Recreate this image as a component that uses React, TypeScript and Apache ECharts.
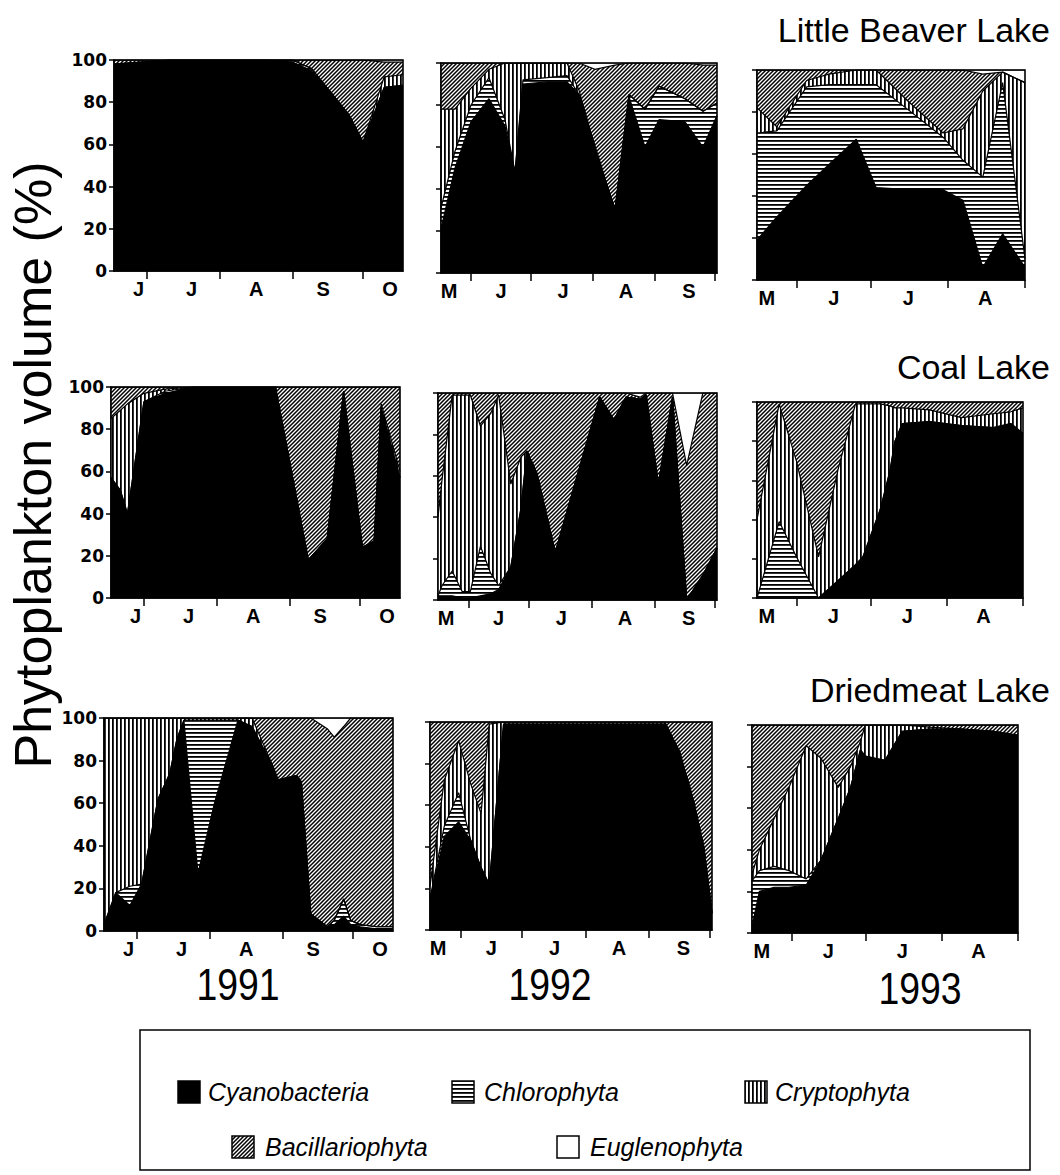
import React, { useEffect, useRef } from "react";
import * as echarts from "echarts";

// ---------- names ----------
const SPECIES = ["Cyanobacteria", "Chlorophyta", "Cryptophyta", "Bacillariophyta", "Euglenophyta"];
const LAKE_TITLES = ["Little Beaver Lake", "Coal Lake", "Driedmeat Lake"];
const YEAR_LABELS = ["1991", "1992", "1993"];
const Y_MIN = 0;
const Y_MAX = 100;
const Y_STEP = 20;

// ---------- x scales (day of year) ----------
const range1991 = [168, 291];
const monthEdges1991 = [182, 213, 244, 274];
const monthLabelDays1991 = [178.5, 201, 228.5, 257, 285.5];
const monthLetters1991 = ["J", "J", "A", "S", "O"];

const range1992 = [137, 275];
const monthEdges1992 = [152, 182, 213, 244, 274];
const monthLabelDays1992 = [141, 167, 198, 229.5, 261];
const monthLetters1992 = ["M", "J", "J", "A", "S"];

const range1993 = [136, 244];
const monthEdges1993 = [152, 182, 213, 244];
const monthLabelDays1993 = [140, 167, 197, 228];
const monthLetters1993 = ["M", "J", "J", "A"];

// ---------- Little Beaver Lake ----------
const lb91Days = [168, 180, 192, 205, 218, 232, 244, 252, 260, 268, 274, 283, 291];
const lb91Cyano = [98, 99, 100, 100, 100, 100, 99, 95, 85, 74, 61, 87, 88];
const lb91Chloro = [0, 0, 0, 0, 0, 0, 1, 1, 0, 0, 0, 0, 0];
const lb91Crypto = [0, 0, 0, 0, 0, 0, 0, 0, 0, 0, 0, 5, 5];
const lb91Bacil = [2, 1, 0, 0, 0, 0, 0, 4, 15, 26, 39, 7, 6];
const lb91Eugl = [0, 0, 0, 0, 0, 0, 0, 0, 0, 0, 0, 1, 1];

const lb92Days = [137, 144, 152, 161, 169, 174, 178, 190, 200, 206, 214, 224, 231, 239, 246, 259, 268, 275];
const lb92Cyano = [21, 50, 72, 83, 70, 48, 90, 91, 91, 85, 60, 30, 84, 60, 73, 72, 60, 75];
const lb92Chloro = [10, 8, 8, 10, 3, 0, 2, 2, 3, 0, 0, 0, 1, 18, 16, 11, 17, 6];
const lb92Crypto = [47, 20, 8, 4, 27, 52, 8, 7, 6, 2, 0, 0, 0, 0, 0, 0, 0, 0];
const lb92Bacil = [22, 22, 12, 3, 0, 0, 0, 0, 0, 13, 37, 69, 15, 22, 11, 17, 22, 18];
const lb92Eugl = [0, 0, 0, 0, 0, 0, 0, 0, 0, 0, 3, 1, 0, 0, 0, 0, 1, 1];

const lb93Days = [136, 144, 156, 165, 176, 184, 197, 211, 219, 227, 235, 244];
const lb93Cyano = [19, 30, 45, 55, 67, 44, 43, 43, 38, 6, 22, 6];
const lb93Chloro = [51, 41, 47, 38, 26, 49, 38, 25, 19, 43, 72, 4];
const lb93Crypto = [12, 2, 3, 5, 7, 7, 4, 2, 15, 41, 5, 84];
const lb93Bacil = [18, 27, 5, 2, 0, 0, 15, 30, 28, 8, 0, 0];
const lb93Eugl = [0, 0, 0, 0, 0, 0, 0, 0, 0, 2, 1, 6];

// ---------- Coal Lake ----------
const co91Days = [168, 172, 175, 182, 191, 203, 216, 228, 238, 252, 260, 267, 275, 280, 283, 291];
const co91Cyano = [57, 51, 40, 93, 97, 100, 100, 100, 100, 18, 28, 98, 24, 27, 90, 57];
const co91Chloro = [0, 0, 0, 0, 1, 0, 0, 0, 0, 0, 0, 0, 0, 0, 0, 0];
const co91Crypto = [28, 38, 52, 4, 1, 0, 0, 0, 0, 0, 0, 0, 0, 0, 2, 3];
const co91Bacil = [15, 11, 8, 3, 1, 0, 0, 0, 0, 82, 72, 2, 76, 73, 8, 40];
const co91Eugl = [0, 0, 0, 0, 0, 0, 0, 0, 0, 0, 0, 0, 0, 0, 0, 0];

const co92Days = [137, 139, 144, 149, 153, 158, 163, 167, 173, 178, 181, 186, 195, 217, 224, 230, 237, 240, 246, 253, 260, 268, 275];
const co92Cyano = [2, 2, 2, 1, 1, 2, 3, 5, 16, 44, 72, 61, 23, 98, 87, 98, 97, 99, 56, 98, 0, 12, 25];
const co92Chloro = [0, 5, 12, 3, 3, 24, 10, 2, 0, 0, 0, 0, 0, 0, 0, 0, 0, 0, 0, 0, 0, 0, 0];
const co92Crypto = [38, 51, 85, 95, 95, 58, 77, 92, 40, 25, 0, 0, 0, 0, 0, 0, 0, 0, 0, 0, 0, 0, 0];
const co92Bacil = [60, 42, 1, 1, 1, 16, 10, 1, 44, 31, 28, 39, 77, 2, 13, 2, 1, 1, 44, 2, 65, 88, 75];
const co92Eugl = [0, 0, 0, 0, 0, 0, 0, 0, 0, 0, 0, 0, 0, 0, 0, 0, 2, 0, 0, 0, 35, 0, 0];

const co93Days = [136, 145, 152, 161, 169, 176, 179, 186, 190, 192, 195, 206, 219, 232, 239, 244];
const co93Cyano = [0, 0, 0, 0, 9, 17, 21, 45, 65, 80, 89, 90, 88, 87, 89, 84];
const co93Chloro = [0, 39, 21, 0, 0, 0, 0, 0, 0, 0, 0, 0, 0, 0, 0, 0];
const co93Crypto = [40, 60, 49, 21, 57, 82, 78, 54, 33, 17, 8, 6, 4, 7, 6, 13];
const co93Bacil = [60, 1, 30, 79, 34, 1, 1, 1, 2, 3, 3, 4, 8, 6, 5, 3];
const co93Eugl = [0, 0, 0, 0, 0, 0, 0, 0, 0, 0, 0, 0, 0, 0, 0, 0];

// ---------- Driedmeat Lake ----------
const dm91Days = [168, 173, 179, 184, 191, 196, 199, 202, 208, 215, 225, 231, 240, 242, 250, 252, 256, 263, 266, 270, 273, 277, 284, 291];
const dm91Cyano = [3, 18, 12, 22, 62, 74, 90, 99, 27, 60, 99, 96, 77, 71, 73, 70, 8, 2, 3, 7, 3, 2, 1, 1];
const dm91Chloro = [0, 0, 9, 0, 0, 0, 0, 0, 72, 39, 0, 0, 0, 0, 0, 0, 0, 0, 2, 8, 2, 1, 1, 1];
const dm91Crypto = [97, 82, 79, 78, 38, 26, 10, 1, 1, 1, 1, 4, 0, 0, 0, 0, 0, 0, 0, 0, 0, 0, 0, 0];
const dm91Bacil = [0, 0, 0, 0, 0, 0, 0, 0, 0, 0, 0, 0, 23, 29, 27, 30, 92, 93, 86, 81, 95, 97, 98, 98];
const dm91Eugl = [0, 0, 0, 0, 0, 0, 0, 0, 0, 0, 0, 0, 0, 0, 0, 0, 0, 5, 9, 4, 0, 0, 0, 0];

const dm92Days = [137, 144, 151, 157, 162, 166, 173, 190, 210, 230, 252, 259, 266, 271, 275];
const dm92Cyano = [15, 45, 52, 43, 30, 22, 99, 99, 99, 99, 99, 86, 62, 40, 8];
const dm92Chloro = [0, 5, 14, 0, 0, 0, 0, 0, 0, 0, 0, 0, 0, 0, 0];
const dm92Crypto = [6, 22, 25, 27, 26, 77, 1, 1, 1, 1, 1, 0, 0, 0, 0];
const dm92Bacil = [79, 28, 9, 30, 44, 1, 0, 0, 0, 0, 0, 14, 38, 60, 92];
const dm92Eugl = [0, 0, 0, 0, 0, 0, 0, 0, 0, 0, 0, 0, 0, 0, 0];

const dm93Days = [136, 139, 145, 151, 158, 164, 171, 176, 180, 182, 186, 190, 197, 208, 221, 234, 244];
const dm93Cyano = [3, 20, 22, 22, 23, 35, 55, 70, 88, 85, 84, 83, 97, 98, 98, 97, 95];
const dm93Chloro = [22, 10, 10, 8, 3, 0, 0, 0, 0, 0, 0, 0, 0, 0, 0, 0, 0];
const dm93Crypto = [3, 10, 23, 40, 64, 49, 15, 10, 4, 15, 16, 17, 3, 1, 0, 0, 0];
const dm93Bacil = [72, 60, 45, 30, 10, 16, 30, 20, 8, 0, 0, 0, 0, 1, 2, 3, 5];
const dm93Eugl = [0, 0, 0, 0, 0, 0, 0, 0, 0, 0, 0, 0, 0, 0, 0, 0, 0];

// ---------- assembly ----------
const YEAR_AXES = [
  { range: range1991, edges: monthEdges1991, labelDays: monthLabelDays1991, letters: monthLetters1991 },
  { range: range1992, edges: monthEdges1992, labelDays: monthLabelDays1992, letters: monthLetters1992 },
  { range: range1993, edges: monthEdges1993, labelDays: monthLabelDays1993, letters: monthLetters1993 },
];

const PANELS = [
  { row: 0, col: 0, days: lb91Days, groups: [lb91Cyano, lb91Chloro, lb91Crypto, lb91Bacil, lb91Eugl] },
  { row: 0, col: 1, days: lb92Days, groups: [lb92Cyano, lb92Chloro, lb92Crypto, lb92Bacil, lb92Eugl] },
  { row: 0, col: 2, days: lb93Days, groups: [lb93Cyano, lb93Chloro, lb93Crypto, lb93Bacil, lb93Eugl] },
  { row: 1, col: 0, days: co91Days, groups: [co91Cyano, co91Chloro, co91Crypto, co91Bacil, co91Eugl] },
  { row: 1, col: 1, days: co92Days, groups: [co92Cyano, co92Chloro, co92Crypto, co92Bacil, co92Eugl] },
  { row: 1, col: 2, days: co93Days, groups: [co93Cyano, co93Chloro, co93Crypto, co93Bacil, co93Eugl] },
  { row: 2, col: 0, days: dm91Days, groups: [dm91Cyano, dm91Chloro, dm91Crypto, dm91Bacil, dm91Eugl] },
  { row: 2, col: 1, days: dm92Days, groups: [dm92Cyano, dm92Chloro, dm92Crypto, dm92Bacil, dm92Eugl] },
  { row: 2, col: 2, days: dm93Days, groups: [dm93Cyano, dm93Chloro, dm93Crypto, dm93Bacil, dm93Eugl] },
];

// layout (pixels): left, top, width, height of each plot
const GRID_RECTS = [
  [114, 60, 289, 211], [441, 63, 276, 210], [757, 70, 268, 210],
  [111, 387, 289, 211], [438, 393, 279, 207], [757, 402, 266, 196],
  [104, 718, 289, 213], [430, 722, 282, 208], [752, 725, 266, 208],
];

const FONT = '"Liberation Sans", Arial, Helvetica, sans-serif';
const TICK_FONT = '"DejaVu Sans", Verdana, sans-serif';

function makePattern(kind: string) {
  const s = 4;
  const c = document.createElement("canvas");
  c.width = s;
  c.height = s;
  const g = c.getContext("2d")!;
  g.fillStyle = "#fff";
  g.fillRect(0, 0, s, s);
  g.fillStyle = "#000";
  g.strokeStyle = "#000";
  if (kind === "h") g.fillRect(0, 0, s, 1.8);
  else if (kind === "v") g.fillRect(0, 0, 1.8, s);
  else {
    g.lineWidth = 1.5;
    g.beginPath();
    g.moveTo(0, s); g.lineTo(s, 0);
    g.moveTo(-1, 1); g.lineTo(1, -1);
    g.moveTo(s - 1, s + 1); g.lineTo(s + 1, s - 1);
    g.stroke();
  }
  return { image: c.toDataURL(), repeat: "repeat", imageWidth: s, imageHeight: s };
}

function nearestIndex(arr: number[], v: number) {
  let best = 0;
  for (let k = 1; k < arr.length; k++) if (Math.abs(arr[k] - v) < Math.abs(arr[best] - v)) best = k;
  return best;
}

function buildOption(fills: any[]) {
  const axisLineStyle = { color: "#000", width: 1.5 };
  const grid = GRID_RECTS.map(([l, t, w, h]) => ({
    left: l, top: t, width: w, height: h,
    show: true, backgroundColor: "#fff", borderWidth: 0,
    containLabel: false, outerBoundsMode: "none",
  }));

  const xAxis = PANELS.map((p, i) => {
    const ax = YEAR_AXES[p.col];
    return {
      type: "value", gridIndex: i, min: ax.range[0], max: ax.range[1],
      axisLine: { show: true, onZero: false, lineStyle: axisLineStyle },
      axisTick: { show: true, customValues: ax.edges, length: 8, inside: false, lineStyle: axisLineStyle },
      axisLabel: {
        show: true, customValues: ax.labelDays,
        formatter: (v: number) => ax.letters[nearestIndex(ax.labelDays, v)],
        fontFamily: FONT, fontWeight: "bold", fontSize: 20, color: "#000", margin: 8,
      },
      splitLine: { show: false },
    };
  });

  const yAxis = PANELS.map((p, i) => ({
    type: "value", gridIndex: i, min: Y_MIN, max: Y_MAX, interval: Y_STEP,
    axisLine: { show: true, lineStyle: axisLineStyle },
    axisTick: { show: true, length: 5, lineStyle: axisLineStyle },
    axisLabel: {
      show: p.col === 0, fontFamily: TICK_FONT, fontWeight: "bold", fontSize: 17, color: "#000", margin: 7,
    },
    splitLine: { show: false },
  }));

  const series: any[] = [];
  PANELS.forEach((p, i) => {
    // cumulative tops of each group (bottom to top)
    const cum: number[][] = [];
    p.groups.forEach((g, gi) => {
      cum.push(g.map((v, k) => v + (gi > 0 ? cum[gi - 1][k] : 0)));
    });
    // draw top group first, lower groups painted over it
    for (let gi = SPECIES.length - 1; gi >= 0; gi--) {
      series.push({
        type: "line", name: SPECIES[gi], xAxisIndex: i, yAxisIndex: i,
        data: p.days.map((d, k) => [d, cum[gi][k]]),
        showSymbol: false, symbol: "none", silent: true,
        lineStyle: { color: "#000", width: 1.2 },
        areaStyle: { color: fills[gi], opacity: 1, origin: "start" },
        emphasis: { disabled: true },
        z: 2,
      });
    }
  });

  const elements: any[] = [];
  // plot frames
  GRID_RECTS.forEach(([l, t, w, h]) => {
    elements.push({
      type: "rect", silent: true, z: 50,
      shape: { x: l, y: t, width: w, height: h },
      style: { fill: "none", stroke: "#000", lineWidth: 1.6 },
    });
  });
  // lake titles
  const titleY = [30, 367, 690];
  LAKE_TITLES.forEach((t, k) => {
    elements.push({
      type: "text", x: 1050, y: titleY[k], z: 50,
      style: { text: t, fontSize: 34, fontFamily: FONT, fill: "#000", align: "right", verticalAlign: "middle" },
    });
  });
  // year labels
  const yearX = [238, 550, 920];
  const yearY = [985, 985, 989];
  YEAR_LABELS.forEach((t, k) => {
    elements.push({
      type: "text", x: yearX[k], y: yearY[k], scaleX: 0.85, z: 50,
      style: { text: t, fontSize: 44, fontFamily: FONT, fill: "#000", align: "center", verticalAlign: "middle" },
    });
  });
  // y title
  elements.push({
    type: "text", x: 33, y: 465, rotation: Math.PI / 2, z: 50,
    style: { text: "Phytoplankton volume (%)", fontSize: 52, fontFamily: FONT, fill: "#000", align: "center", verticalAlign: "middle" },
  });
  // legend
  elements.push({
    type: "rect", silent: true, z: 50,
    shape: { x: 140, y: 1030, width: 890, height: 140 },
    style: { fill: "none", stroke: "#000", lineWidth: 1.5 },
  });
  const legendPos = [
    [178, 1092, 208], [452, 1092, 484], [745, 1092, 775],
    [232, 1147, 265], [557, 1147, 590],
  ];
  SPECIES.forEach((name, k) => {
    const [sx, cy, tx] = legendPos[k];
    elements.push({
      type: "rect", z: 50,
      shape: { x: sx, y: cy - 11, width: 22, height: 22 },
      style: { fill: fills[k], stroke: "#000", lineWidth: 1.5 },
    });
    elements.push({
      type: "text", x: tx, y: cy, z: 50,
      style: { text: name, fontSize: 25, fontStyle: "italic", fontFamily: FONT, fill: "#000", align: "left", verticalAlign: "middle" },
    });
  });

  return {
    animation: false,
    backgroundColor: "#fff",
    grid, xAxis, yAxis, series,
    graphic: { elements },
  };
}

export default function App() {
  const ref = useRef<HTMLDivElement>(null);
  useEffect(() => {
    if (!ref.current) return;
    const chart = echarts.init(ref.current, null, { renderer: "svg" });
    const fills = ["#000", makePattern("h"), makePattern("v"), makePattern("d"), "#fff"];
    chart.setOption(buildOption(fills) as any);
    return () => chart.dispose();
  }, []);
  return (
    <div
      ref={ref}
      style={{ position: "absolute", left: 0, top: 0, width: 1060, height: 1175, background: "#fff" }}
    />
  );
}
